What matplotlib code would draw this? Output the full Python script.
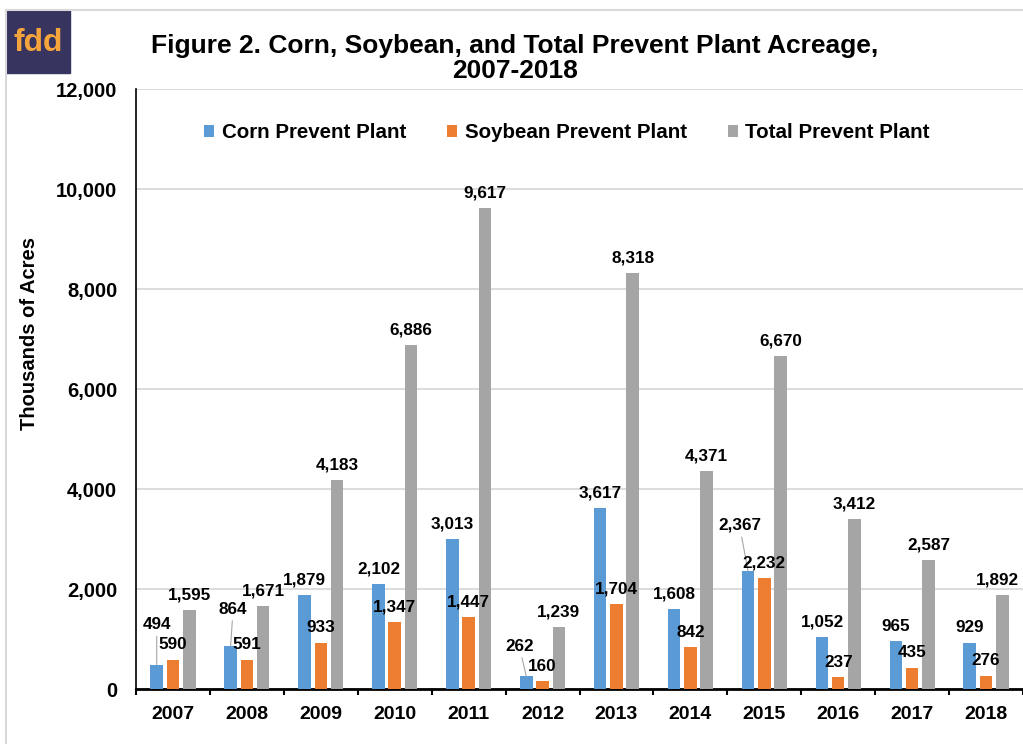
import matplotlib.pyplot as plt
import numpy as np
from matplotlib.patches import Rectangle
from matplotlib.lines import Line2D

years = ["2007", "2008", "2009", "2010", "2011", "2012",
         "2013", "2014", "2015", "2016", "2017", "2018"]
corn = [494, 864, 1879, 2102, 3013, 262, 3617, 1608, 2367, 1052, 965, 929]
soybean = [590, 591, 933, 1347, 1447, 160, 1704, 842, 2232, 237, 435, 276]
total = [1595, 1671, 4183, 6886, 9617, 1239, 8318, 4371, 6670, 3412, 2587, 1892]
names = ["Corn Prevent Plant", "Soybean Prevent Plant", "Total Prevent Plant"]
colors = ["#5B9BD5", "#ED7D31", "#A5A5A5"]

# label nudges in pixels (dx, up) for labels Excel moved off their bar
shifts = {(0, 0): (0, 40), (0, 1): (2.5, 37), (0, 5): (-7, 30),
          (0, 8): (-8.5, 45.5), (2, 11): (-4.5, 14.5)}

plt.rcParams["font.family"] = ["Liberation Sans", "DejaVu Sans"]
plt.rcParams["font.weight"] = "bold"

W, H = 1023, 744
fig = plt.figure(figsize=(W / 100, H / 100), dpi=100)
ax = fig.add_axes([136 / W, 1 - 689.3 / H, 887 / W, 600 / H])

x = np.arange(len(years))
for k, (vals, name, color) in enumerate(zip([corn, soybean, total], names, colors)):
    xs = x + (k - 1) * 0.22
    ax.bar(xs, vals, 0.17, color=color, label=name, zorder=3)
    for i, (xi, v) in enumerate(zip(xs, vals)):
        dx, up = shifts.get((k, i), (0, 15))
        props = None
        if up > 25:
            props = dict(arrowstyle="-", color="#A6A6A6", lw=0.8, shrinkA=1, shrinkB=0)
        ax.annotate(f"{v:,}", xy=(xi, v), xytext=(dx, up), textcoords="offset pixels",
                    ha="center", va="center", fontsize=12.3, fontweight="bold",
                    arrowprops=props, zorder=4)

ax.set_xlim(-0.5, len(years) - 0.5)
ax.set_ylim(0, 12000)
ax.set_yticks(np.arange(0, 12001, 2000))
ax.set_yticklabels([f"{v:,}" for v in range(0, 12001, 2000)], fontsize=14.5, fontweight="bold")
ax.set_xticks(x)
ax.set_xticklabels(years, fontsize=14, fontweight="bold")
ax.set_xticks(np.arange(-0.5, len(years), 1), minor=True)
ax.tick_params(axis="x", which="major", length=0, pad=12)
ax.tick_params(axis="x", which="minor", length=4, width=1.5, direction="out")
ax.tick_params(axis="y", length=0, pad=13.5)

ax.yaxis.grid(True, color="#D9D9D9", lw=1.3)
ax.set_axisbelow(True)
for s in ["top", "right"]:
    ax.spines[s].set_visible(False)
ax.spines["left"].set_linewidth(1.2)
ax.spines["bottom"].set_linewidth(2)

leg = ax.legend(loc="center", bbox_to_anchor=(567 / W, 1 - 133 / H),
                bbox_transform=fig.transFigure, ncol=3, frameon=False,
                prop={"size": 14.8, "weight": "bold"}, handlelength=0.5,
                handleheight=0.5, handletextpad=0.35, columnspacing=2.0)

fig.text(30 / W, 1 - 333.5 / H, "Thousands of Acres", rotation=90,
         ha="center", va="center", fontsize=14.5, fontweight="bold")
fig.text(515 / W, 1 - 46 / H, "Figure 2. Corn, Soybean, and Total Prevent Plant Acreage,",
         ha="center", va="center", fontsize=19, fontweight="bold")
fig.text(515 / W, 1 - 71 / H, "2007-2018",
         ha="center", va="center", fontsize=19, fontweight="bold")

# chart-area border and logo
fig.add_artist(Line2D([6 / W, 6 / W], [0, 1 - 10 / H], color="#D9D9D9", lw=1.5))
fig.add_artist(Line2D([6 / W, 1], [1 - 10 / H, 1 - 10 / H], color="#D9D9D9", lw=1.5))
fig.add_artist(Rectangle((6 / W, 1 - 73 / H), 64 / W, 63 / H, color="#37345F",
                         transform=fig.transFigure))
fig.text(38 / W, 1 - 43 / H, "fdd", color="#F6A43C", ha="center", va="center",
         fontsize=23, fontweight="bold")

fig.savefig("out.png", dpi=100)
